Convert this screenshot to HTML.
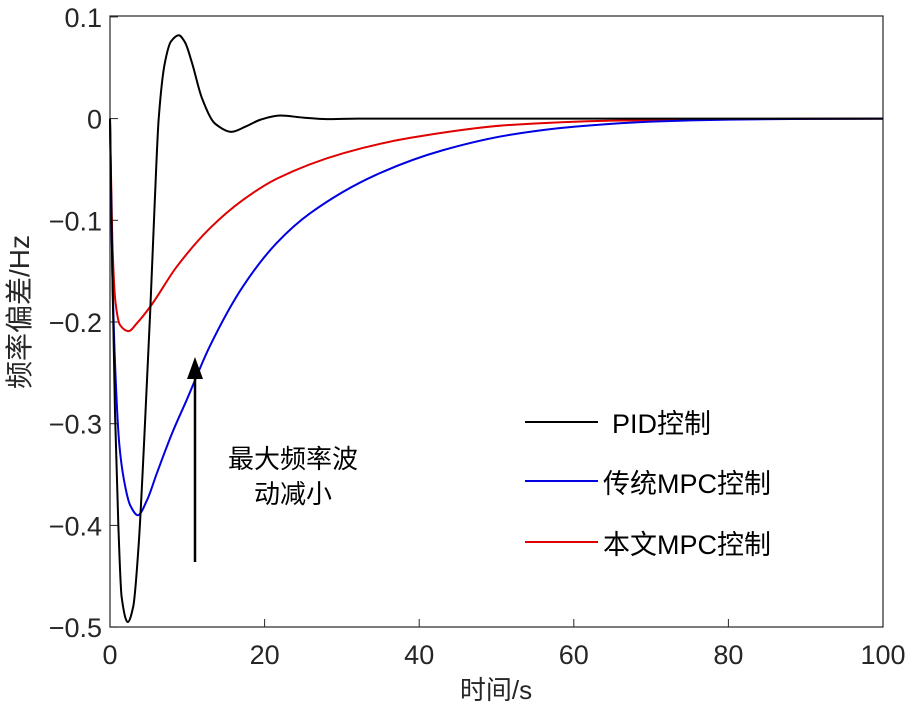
<!DOCTYPE html>
<html><head><meta charset="utf-8"><style>
html,body{margin:0;padding:0;background:#fff;}
svg text{font-family:"Liberation Sans","Noto Sans CJK SC",sans-serif;fill:#262626;}
</style></head><body>
<svg id="chart" width="912" height="710" viewBox="0 0 912 710" xmlns="http://www.w3.org/2000/svg">
<rect x="110" y="16" width="773" height="611" fill="#fff" stroke="#262626" stroke-width="1.2"/>
<g id="ticks"></g>
<g id="series"></g>
<text x="496" y="699" font-size="26" text-anchor="middle">时间/s</text>
<text transform="translate(29,312) rotate(-90)" font-size="28" text-anchor="middle">频率偏差/Hz</text>
<g>
<line x1="525" y1="422" x2="598" y2="422" stroke="#000" stroke-width="2"/>
<text x="612" y="433" font-size="27" style="fill:#000">PID控制</text>
<line x1="525" y1="481" x2="598" y2="481" stroke="#0000e0" stroke-width="2"/>
<text x="603" y="493" font-size="27" style="fill:#000">传统MPC控制</text>
<line x1="525" y1="542" x2="598" y2="542" stroke="#e00000" stroke-width="2"/>
<text x="603" y="554" font-size="27" style="fill:#000">本文MPC控制</text>
</g>
<g>
<line x1="195" y1="562" x2="195" y2="375" stroke="#000" stroke-width="2.5"/>
<polygon points="195,357 187,379 203,379" fill="#000"/>
<text x="293" y="468" font-size="26" text-anchor="middle" style="fill:#000">最大频率波</text>
<text x="293" y="503" font-size="26" text-anchor="middle" style="fill:#000">动减小</text>
</g>
</svg>
<script>
const xTicks=[0,20,40,60,80,100];
const yTicks=[0.1,0,-0.1,-0.2,-0.3,-0.4,-0.5];
const yTickLabels=["0.1","0","\u22120.1","\u22120.2","\u22120.3","\u22120.4","\u22120.5"];
const pidT=[0,0.3,0.65,1.08,1.5,2.3,3,3.7,4.4,5.2,5.8,6.3,7.1,7.9,8.9,9.7,10.6,11.9,13.6,15.7,17.5,19.5,22,25,28,32,100];
const pidV=[0,-0.15,-0.29,-0.40,-0.47,-0.495,-0.48,-0.42,-0.32,-0.19,-0.08,0,0.055,0.076,0.082,0.075,0.055,0.02,-0.005,-0.013,-0.008,-0.001,0.003,0.001,-0.0005,0,0];
const blueT=[0,0.3,0.7,1.2,1.8,2.6,3.6,4.8,6,8,9.9,12.9,17.2,21.6,25.9,34.5,43.1,51.7,60,70,80,90,100];
const blueV=[0,-0.15,-0.25,-0.32,-0.355,-0.38,-0.39,-0.375,-0.35,-0.31,-0.277,-0.224,-0.165,-0.122,-0.093,-0.055,-0.031,-0.016,-0.008,-0.003,-0.001,-0.0003,0];
const redT=[0,0.3,0.7,1.3,2.4,3.5,5.2,8.6,12.9,17.2,21.6,30.2,38.8,51.7,65,80,100];
const redV=[0,-0.12,-0.18,-0.203,-0.209,-0.201,-0.185,-0.146,-0.108,-0.080,-0.059,-0.034,-0.019,-0.0063,-0.002,-0.0005,0];
const X0=110,X1=883,Y0=118.6,YS=1017;
function xs(t){return X0+(X1-X0)*t/100;}
function ys(v){return Y0-v*YS;}
const NS="http://www.w3.org/2000/svg";
const tg=document.getElementById('ticks');
xTicks.forEach(t=>{
 const l=document.createElementNS(NS,'line');
 l.setAttribute('x1',xs(t));l.setAttribute('x2',xs(t));l.setAttribute('y1',627);l.setAttribute('y2',619);
 l.setAttribute('stroke','#262626');
 
 
 tg.appendChild(l);
 const s=document.createElementNS(NS,'text');
 s.setAttribute('x',xs(t));s.setAttribute('y',664);s.setAttribute('font-size','27');s.setAttribute('text-anchor','middle');
 s.textContent=t;
 
 
 tg.appendChild(s);
});
yTicks.forEach((v,i)=>{
 const l=document.createElementNS(NS,'line');
 l.setAttribute('x1',110);l.setAttribute('x2',118);l.setAttribute('y1',ys(v));l.setAttribute('y2',ys(v));
 l.setAttribute('stroke','#262626');
 
 
 tg.appendChild(l);
 const s=document.createElementNS(NS,'text');
 s.setAttribute('x',102);s.setAttribute('y',ys(v)+10);s.setAttribute('font-size','27');s.setAttribute('text-anchor','end');
 s.textContent=yTickLabels[i];
 
 
 tg.appendChild(s);
});
// monotone cubic (Fritsch-Carlson) in data space
function pathFor(T,V){
 const n=T.length,d=[],m=new Array(n).fill(0);
 for(let i=0;i<n-1;i++)d.push((V[i+1]-V[i])/(T[i+1]-T[i]));
 m[0]=d[0];m[n-1]=d[n-2];
 for(let i=1;i<n-1;i++){
  if(d[i-1]*d[i]<=0)m[i]=0;
  else{const h0=T[i]-T[i-1],h1=T[i+1]-T[i];const w1=2*h1+h0,w2=h1+2*h0;m[i]=(w1+w2)/(w1/d[i-1]+w2/d[i]);}
 }
 let s='M'+xs(T[0])+','+ys(V[0]);
 for(let i=0;i<n-1;i++){
  const h=T[i+1]-T[i];
  s+=' C'+xs(T[i]+h/3)+','+ys(V[i]+m[i]*h/3)+' '+xs(T[i+1]-h/3)+','+ys(V[i+1]-m[i+1]*h/3)+' '+xs(T[i+1])+','+ys(V[i+1]);
 }
 return s;
}
const sg=document.getElementById('series');
[[redT,redV,'#e00000','series-proposed-mpc'],[blueT,blueV,'#0000e0','series-traditional-mpc'],[pidT,pidV,'#000','series-pid']].forEach(s=>{
 const p=document.createElementNS(NS,'path');
 p.setAttribute('d',pathFor(s[0],s[1]));
 p.setAttribute('fill','none');p.setAttribute('stroke',s[2]);p.setAttribute('stroke-width','2');
 
 
 sg.appendChild(p);
});
</script>
</body></html>
